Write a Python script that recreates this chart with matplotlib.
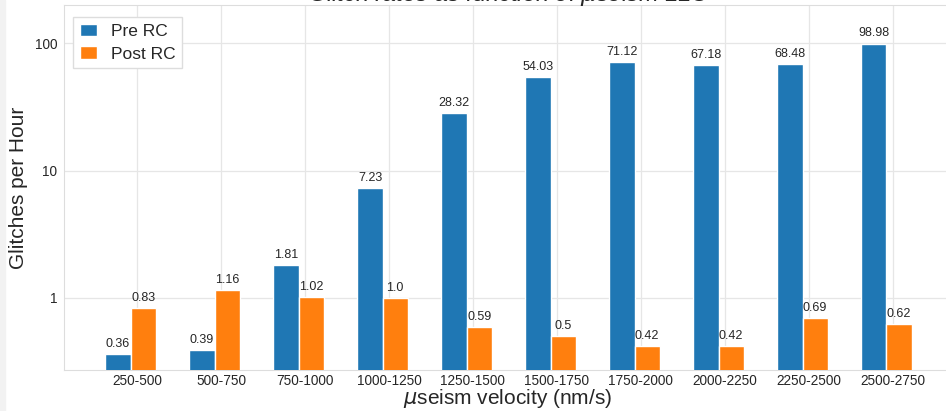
import numpy as np
import matplotlib
matplotlib.use("Agg")
import matplotlib.pyplot as plt
import matplotlib.ticker as mticker
import seaborn as sns

# Glitch rates per microseism velocity bin, before and after the RC change
bins = ["250-500", "500-750", "750-1000", "1000-1250", "1250-1500",
        "1500-1750", "1750-2000", "2000-2250", "2250-2500", "2500-2750"]
pre_rc = [0.36, 0.39, 1.81, 7.23, 28.32, 54.03, 71.12, 67.18, 68.48, 98.98]
post_rc = [0.83, 1.16, 1.02, 1.0, 0.59, 0.5, 0.42, 0.42, 0.69, 0.62]

sns.set_style("whitegrid")
plt.rcParams["font.family"] = ["Liberation Sans", "DejaVu Sans"]

fig = plt.figure(figsize=(9.46, 4.11), dpi=100)
fig.patches.append(plt.Rectangle((0, 0), 5 / 946, 1, transform=fig.transFigure,
                                 color="#f2f2f2", zorder=-10))
ax = fig.add_axes([64 / 946, 41 / 411, (952 - 64) / 946, (370 - 5) / 411])

x = np.arange(len(bins))
width = 0.3
b1 = ax.bar(x - 0.225, pre_rc, width, color="#1f77b4", edgecolor="white",
            linewidth=1, label="Pre RC", zorder=3)
b2 = ax.bar(x + 0.075, post_rc, width, color="#ff7f0e", edgecolor="white",
            linewidth=1, label="Post RC", zorder=3)

for bars, vals in ((b1, pre_rc), (b2, post_rc)):
    for rect, v in zip(bars, vals):
        ax.annotate(str(v), (rect.get_x() + rect.get_width() / 2, v),
                    xytext=(0, 3), textcoords="offset points",
                    ha="center", va="bottom", fontsize=9, color="#262626")

ax.set_yscale("log")
ax.set_ylim(0.272, 199)
ax.set_xlim(-0.869, 9.705)
ax.yaxis.set_major_locator(mticker.FixedLocator([1, 10, 100]))
ax.yaxis.set_major_formatter(mticker.FixedFormatter(["1", "10", "100"]))
ax.yaxis.set_minor_locator(mticker.NullLocator())
ax.set_xticks(x)
ax.set_xticklabels(bins)
ax.tick_params(axis="both", labelsize=9.8, colors="#262626", length=0, pad=5)
ax.tick_params(axis="x", pad=3)

ax.grid(True, color="#e6e6e6", linewidth=0.9, zorder=0)
for s in ax.spines.values():
    s.set_color("#dddddd")

ax.set_xlabel(r"$\mu$seism velocity (nm/s)", fontsize=15, color="#262626", labelpad=-0.5)
ax.set_ylabel("Glitches per Hour", fontsize=15, color="#262626", labelpad=5)
ax.set_title(r"Glitch rates as function of $\mu$seism LLO", fontsize=17,
             color="#262626", pad=3)

ax.legend(loc="upper left", fontsize=12.5, frameon=True, framealpha=1,
          edgecolor="#dddddd", fancybox=False, borderpad=0.4,
          handlelength=1.0, handleheight=0.7, handletextpad=0.8,
          labelspacing=0.4, bbox_to_anchor=(0.0, 0.99))

fig.savefig("out.png", dpi=100)
